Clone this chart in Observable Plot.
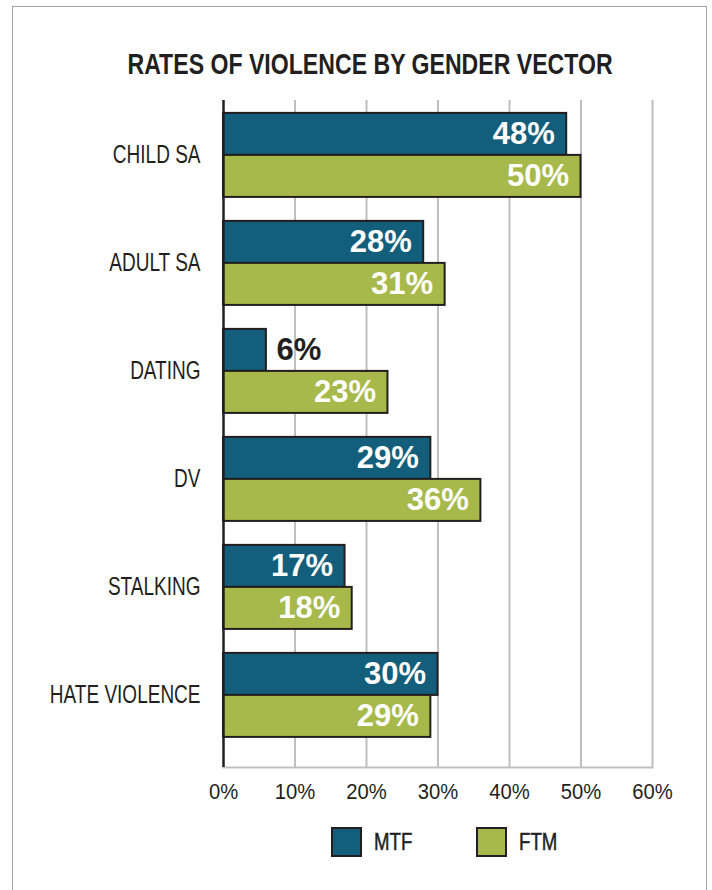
<!DOCTYPE html>
<html>
<head>
<meta charset="utf-8">
<script src="https://cdn.jsdelivr.net/npm/d3@7"></script>
<script src="https://cdn.jsdelivr.net/npm/@observablehq/plot@0.6"></script>
<style>
  html, body { margin: 0; padding: 0; background: #fff; }
  #page { position: relative; width: 712px; height: 890px; overflow: hidden; }
  #border { position: absolute; left: 12px; top: 6px; width: 695px; height: 900px;
            border: 1.5px solid #a3a3a3; border-bottom: none; box-sizing: border-box; }
  #title { position: absolute; left: 0; top: 49px; width: 741px; text-align: center;
           font-family: "Liberation Sans", Arial, sans-serif;
           font-weight: bold; font-size: 30px; line-height: 30px; color: #231f20; white-space: nowrap; }
  #title span { display: inline-block; transform: scaleX(0.77); transform-origin: center; }
  #chart { position: absolute; left: 0; top: 0; }
  .legend { position: absolute; top: 827px; height: 30px; display: flex; align-items: center;
            font-family: "Liberation Sans", Arial, sans-serif;
            font-size: 23px; color: #231f20; white-space: nowrap; }
  .legend span { display: inline-block; transform: scaleX(0.81); transform-origin: left center;
                 -webkit-text-stroke: 0.5px #231f20; }
  .swatch { width: 31px; height: 30px; box-sizing: border-box; border: 2.5px solid #231f20; margin-right: 12px; }
</style>
</head>
<body>
<div id="page">
  <div id="border"></div>
  <div id="title"><span></span></div>
  <div id="chart"></div>
</div>
<script>
const title = "RATES OF VIOLENCE BY GENDER VECTOR";
const categories = ["CHILD SA", "ADULT SA", "DATING", "DV", "STALKING", "HATE VIOLENCE"];
const mtf = [48, 28, 6, 29, 17, 30];
const ftm = [50, 31, 23, 36, 18, 29];
const seriesNames = ["MTF", "FTM"];
const seriesColors = ["#135e7b", "#a7b94a"];
const xTicks = [0, 10, 20, 30, 40, 50, 60];

const data = categories.flatMap((c, i) => [
  {category: c, series: seriesNames[0], value: mtf[i]},
  {category: c, series: seriesNames[1], value: ftm[i]}
]);

document.querySelector("#title span").textContent = title;

const sans = '"Liberation Sans", Arial, sans-serif';
const half = 42;
const ink = "#231f20";
const isMTF = d => d.series === seriesNames[0];
const isFTM = d => d.series === seriesNames[1];
const fmt = d => d.value + "%";
const labelStyle = {fontSize: 31, fontWeight: "bold", fontFamily: sans};

const chart = Plot.plot({
  width: 712,
  height: 830,
  marginLeft: 223,
  marginRight: 60,
  marginTop: 100,
  marginBottom: 63,
  style: {fontFamily: sans, fontSize: "24px", color: ink, background: "transparent"},
  x: {domain: [0, 60], ticks: xTicks, tickFormat: d => d + "%"},
  y: {domain: categories, paddingInner: 0.222, paddingOuter: 0.199, align: 0.3, round: false},
  color: {domain: seriesNames, range: seriesColors},
  marks: [
    Plot.gridX(xTicks.slice(1), {stroke: "#bfbfc2", strokeOpacity: 1, strokeWidth: 2}),
    Plot.frame({anchor: "bottom", stroke: "#bfbfc2", strokeWidth: 2}),
    Plot.barX(data.filter(isMTF), {x: "value", y: "category", fill: "series", stroke: ink, strokeWidth: 2, insetBottom: half}),
    Plot.barX(data.filter(isFTM), {x: "value", y: "category", fill: "series", stroke: ink, strokeWidth: 2, insetTop: half}),
    Plot.ruleX([0], {stroke: ink, strokeWidth: 2.5}),
    Plot.text(data.filter(d => isMTF(d) && d.value >= 10), {x: "value", y: "category", text: fmt, textAnchor: "end", dx: -12, dy: -21, fill: "white", ...labelStyle}),
    Plot.text(data.filter(d => isFTM(d) && d.value >= 10), {x: "value", y: "category", text: fmt, textAnchor: "end", dx: -12, dy: 21, fill: "white", ...labelStyle}),
    Plot.text(data.filter(d => isMTF(d) && d.value < 10), {x: "value", y: "category", text: fmt, textAnchor: "start", dx: 10, dy: -21, fill: ink, ...labelStyle}),
    Plot.text(data.filter(d => isFTM(d) && d.value < 10), {x: "value", y: "category", text: fmt, textAnchor: "start", dx: 10, dy: 21, fill: ink, ...labelStyle}),
    Plot.axisY({tickSize: 0, tickPadding: 23, fontSize: 25, label: null, ariaLabel: "y-axis", stroke: ink, strokeWidth: 0.5}),
    Plot.axisX({ticks: xTicks, tickSize: 0, tickPadding: 16, fontSize: 22, label: null, tickFormat: d => d + "%", ariaLabel: "x-axis", stroke: ink, strokeWidth: 0.4})
  ]
});
document.getElementById("chart").appendChild(chart);

// condense axis text (the reference uses a condensed face)
function condense(selector, factor) {
  chart.querySelectorAll(selector).forEach(t => {
    const w = t.getComputedTextLength();
    t.setAttribute("textLength", (w * factor).toFixed(2));
    t.setAttribute("lengthAdjust", "spacingAndGlyphs");
  });
}
condense('g[aria-label="y-axis tick label"] text', 0.76);
condense('g[aria-label="x-axis tick label"] text', 0.92);

const legendLefts = [331, 476];
seriesNames.forEach((name, i) => {
  const item = document.createElement("div");
  item.className = "legend";
  item.style.left = legendLefts[i] + "px";
  const sw = document.createElement("div");
  sw.className = "swatch";
  sw.style.background = seriesColors[i];
  const label = document.createElement("span");
  label.textContent = name;
  item.appendChild(sw);
  item.appendChild(label);
  document.getElementById("page").appendChild(item);
});
</script>
</body>
</html>
